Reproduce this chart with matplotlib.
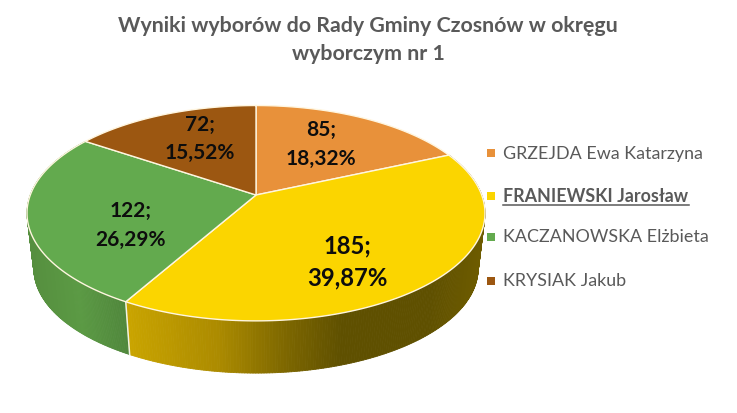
import numpy as np
import matplotlib
matplotlib.use("Agg")
import matplotlib.pyplot as plt
from matplotlib.collections import PolyCollection
from matplotlib.colors import LinearSegmentedColormap
from matplotlib.patches import Polygon

names = ["GRZEJDA Ewa Katarzyna", "FRANIEWSKI Jarosław", "KACZANOWSKA Elżbieta", "KRYSIAK Jakub"]
votes = [85, 185, 122, 72]
pct_labels = ["18,32%", "39,87%", "26,29%", "15,52%"]
top_colors = ["#E8913A", "#FBD500", "#63AA4E", "#9C5711"]
title = "Wyniki wyborów do Rady Gminy Czosnów w okręgu\nwyborczym nr 1"

plt.rcParams["font.family"] = ["Lato", "DejaVu Sans"]
fig = plt.figure(figsize=(7.37, 4.13), dpi=100)
ax = fig.add_axes([0, 0, 1, 1])
ax.set_xlim(0, 737)
ax.set_ylim(413, 0)
ax.axis("off")

CX, CY = 256.0, 195.0
KX, KY, P = 225.7, 104.6, 0.169
SCALE, BOTTOM_Y = 0.97, 251.0


def project(theta, level=0):
    X, Y = np.sin(theta), np.cos(theta)
    w = 1 + P * Y
    if level == 0:
        return CX + KX * X / w, CY - KY * Y / w
    return CX + SCALE * KX * X / w, BOTTOM_Y - SCALE * KY * Y / w


cum = np.cumsum([0] + votes) / sum(votes) * 2 * np.pi

side_maps = {
    1: LinearSegmentedColormap.from_list("y", [(0, "#C9A400"), (0.25, "#AC8B00"), (0.45, "#7C6600"),
                                               (0.6, "#5F5000"), (0.85, "#5F5000"), (1, "#6E5C00")]),
    2: LinearSegmentedColormap.from_list("g", [(0, "#568F3F"), (0.5, "#5B9A44"), (1, "#4F863B")]),
}

# side walls, only the front-facing wedges show
for i in (2, 1):
    t = np.linspace(cum[i], cum[i + 1], 240)
    x0, y0 = project(t)
    x1, y1 = project(t, 1)
    quads = [[(x0[j], y0[j]), (x0[j + 1], y0[j + 1]), (x1[j + 1], y1[j + 1]), (x1[j], y1[j])]
             for j in range(len(t) - 1)]
    xm = (x0[:-1] + x0[1:]) / 2
    lo, hi = (127, 485) if i == 1 else (27, 127)
    cols = side_maps[i]((xm - lo) / (hi - lo))
    ax.add_collection(PolyCollection(quads, facecolors=cols, edgecolors=cols, linewidths=0.6, zorder=2))

# white seam on the wall between green and yellow
sx0, sy0 = project(cum[2])
sx1, sy1 = project(cum[2], 1)
ax.plot([sx0, sx1], [sy0, sy1], color="#EFF3E6", lw=1.1, zorder=3)

# top face
for i in range(len(votes)):
    t = np.linspace(cum[i], cum[i + 1], 200)
    x, y = project(t)
    pts = np.column_stack([np.r_[CX, x], np.r_[CY, y]])
    ax.add_patch(Polygon(pts, closed=True, facecolor=top_colors[i], edgecolor="#FFF6E0", lw=1.0, zorder=4))

# data labels: value and share, two rows
label_x = [321, 347, 131, 200]
label_y = [(130, 159), (246, 278), (211, 240), (125, 153)]
label_fs = [15, 17.2, 15, 15]
for i in range(len(votes)):
    ax.text(label_x[i], label_y[i][0], f"{votes[i]};", ha="center", va="center",
            fontsize=label_fs[i], fontweight="bold", color="#0D0D0D", zorder=5)
    ax.text(label_x[i], label_y[i][1], pct_labels[i], ha="center", va="center",
            fontsize=label_fs[i], fontweight="bold", color="#0D0D0D", zorder=5)

# title
ax.text(368, 39.5, title, ha="center", va="center", fontsize=15.4, fontweight="bold",
        color="#595959", linespacing=1.5)

# legend
legend_y = [153, 196, 237, 281]
for i, n in enumerate(names):
    ax.scatter([491.5], [legend_y[i]], marker="s", s=33, color=top_colors[i], linewidths=0, zorder=5)
    ax.text(503, legend_y[i] + 0.5, n, ha="left", va="center", fontsize=12.9, color="#595959",
            fontweight="bold" if i == 1 else "normal")
ax.plot([503, 689], [205, 205], color="#595959", lw=1.1)

fig.savefig("out.png", dpi=100)
